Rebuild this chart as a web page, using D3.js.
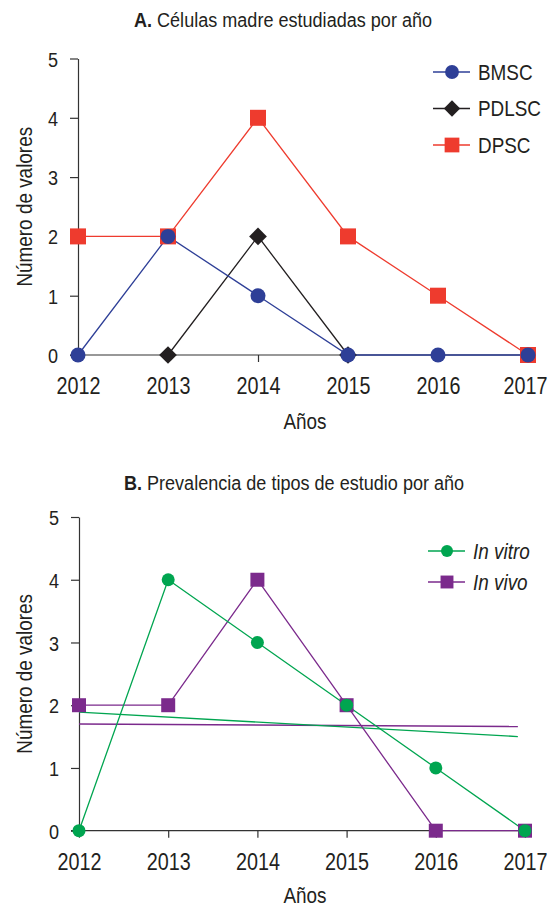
<!DOCTYPE html>
<meta charset="utf-8">
<style>
body { margin: 0; background: #fff; }
svg text { font-family: "Liberation Sans", Arial, sans-serif; fill: #231f20; }
.axis path, .axis line { stroke: #333; stroke-width: 1.2; }
</style>
<body>
<script src="https://cdn.jsdelivr.net/npm/d3@7"></script>
<script>
// data
var years = [2012, 2013, 2014, 2015, 2016, 2017];
var yTicks = [0, 1, 2, 3, 4, 5];

var bmsc  = [0, 2, 1, 0, 0, 0];
var pdlsc = [null, 0, 2, 0, null, null];
var dpsc  = [2, 2, 4, 2, 1, 0];

var inVitro = [0, 4, 3, 2, 1, 0];
var inVivo  = [2, 2, 4, 2, 0, 0];
// trend lines (start / end)
var vitroTrend = [[2012, 1.89], [2016.92, 1.5]];
var vivoTrend  = [[2012, 1.70], [2016.92, 1.66]];

var W = 548, H = 909;
var NARROW = 0.86; // the original uses a condensed face
var svg = d3.select("body").append("svg").attr("width", W).attr("height", H);

// squeeze text horizontally, keeping its anchor where it was
function condense(sel) {
  sel.each(function() {
    var s = d3.select(this);
    var x0 = +s.attr("x") || 0;
    s.attr("x", x0 / NARROW);
    s.attr("transform", (s.attr("transform") || "") + " scale(" + NARROW + ",1)");
  });
}

function panel(opt) {
  var x = d3.scaleLinear().domain([2012, 2017]).range([opt.left, opt.right]);
  var y = d3.scaleLinear().domain([0, 5]).range([opt.bottom, opt.top]);
  var g = svg.append("g");

  // title (bold letter + plain text)
  var t = g.append("text")
      .attr("transform", "translate(" + opt.titleX + "," + opt.titleY + ")")
      .attr("text-anchor", "middle").style("font-size", "21px");
  t.append("tspan").style("font-weight", "bold").text(opt.letter);
  t.append("tspan").text(" " + opt.title);
  condense(t);

  g.append("g").attr("class", "axis")
      .attr("transform", "translate(" + opt.left + ",0)")
      .call(d3.axisLeft(y).tickValues(yTicks).tickSize(8).tickSizeOuter(0).tickPadding(12).tickFormat(d3.format("d")))
      .call(function(a) {
        a.selectAll("text").style("font-size", "21px").style("font-family", null).attr("dy", "0.36em");
        condense(a.selectAll("text"));
      });

  g.append("g").attr("class", "axis")
      .attr("transform", "translate(0," + opt.bottom + ")")
      .call(d3.axisBottom(x).tickValues(years).tickSize(7).tickSizeOuter(0).tickPadding(16).tickFormat(d3.format("d")))
      .call(function(a) {
        a.select(".domain").remove();
        a.selectAll("text").style("font-size", "23px").style("font-family", null);
        condense(a.selectAll("text"));
        // keep the last label inside the page
        a.selectAll(".tick").each(function(d) {
          var half = this.querySelector("text").getComputedTextLength() * NARROW / 2;
          var over = x(d) + half - (W - 1);
          if (over > 0) d3.select(this).select("text").attr("x", -over / NARROW);
        });
      });
  g.append("line").attr("x1", opt.left - 8).attr("x2", opt.right)
      .attr("y1", opt.bottom).attr("y2", opt.bottom)
      .attr("stroke", "#333").attr("stroke-width", 1.2);

  condense(g.append("text").attr("transform", "translate(" + opt.ylabX + "," + ((opt.top + opt.bottom) / 2) + ") rotate(-90)")
      .attr("text-anchor", "middle").style("font-size", "22px").text("Número de valores"));
  condense(g.append("text").attr("x", 305).attr("y", opt.xlabY)
      .attr("text-anchor", "middle").style("font-size", "22px").text("Años"));

  var line = d3.line().defined(function(d) { return d[1] != null; })
      .x(function(d) { return x(d[0]); }).y(function(d) { return y(d[1]); });

  (opt.trends || []).forEach(function(tr) {
    g.append("path").datum(tr.data).attr("d", line)
        .attr("fill", "none").attr("stroke", tr.color).attr("stroke-width", 1.4);
  });

  opt.series.forEach(function(s) {
    var pts = years.map(function(yr, i) { return [yr, s.values[i]]; });
    g.append("path").datum(pts).attr("d", line)
        .attr("fill", "none").attr("stroke", s.color).attr("stroke-width", 1.3);
  });
  opt.series.forEach(function(s) {
    var pts = years.map(function(yr, i) { return [yr, s.values[i]]; })
        .filter(function(d) { return d[1] != null; });
    g.selectAll(null).data(pts).enter().append("path")
        .attr("transform", function(d) { return "translate(" + x(d[0]) + "," + y(d[1]) + ")"; })
        .attr("d", d3.symbol().type(s.symbol).size(s.size))
        .attr("fill", s.color);
  });

  // legend
  opt.series.slice().sort(function(a, b) { return a.legendOrder - b.legendOrder; }).forEach(function(s, i) {
    var ly = opt.legY + i * opt.legStep;
    var lg = g.append("g").attr("transform", "translate(" + opt.legX + "," + ly + ")");
    lg.append("line").attr("x1", -19).attr("x2", 18).attr("stroke", s.color).attr("stroke-width", 1.5);
    lg.append("path").attr("d", d3.symbol().type(s.symbol).size(s.size * 0.85)).attr("fill", s.color);
    condense(lg.append("text").attr("x", 26).attr("dy", "0.36em").style("font-size", "22px")
        .style("font-style", s.italic ? "italic" : null).text(s.name));
  });
}

panel({
  left: 78, right: 528, top: 58.5, bottom: 355,
  letter: "A.", title: "Células madre estudiadas por año", titleX: 283, titleY: 27,
  ylabX: 32, xlabY: 429,
  legX: 452, legY: 72, legStep: 36.5,
  series: [
    { name: "DPSC", values: dpsc, color: "#ee3b2e", symbol: d3.symbolSquare, size: 256, legendOrder: 2 },
    { name: "PDLSC", values: pdlsc, color: "#231f20", symbol: d3.symbolDiamond2 || d3.symbolDiamond, size: 200, legendOrder: 1 },
    { name: "BMSC", values: bmsc, color: "#2e3f97", symbol: d3.symbolCircle, size: 177, legendOrder: 0 }
  ]
});

panel({
  left: 79, right: 525, top: 517, bottom: 830.7,
  letter: "B.", title: "Prevalencia de tipos de estudio por año", titleX: 294, titleY: 490,
  ylabX: 32, xlabY: 903,
  legX: 447, legY: 551, legStep: 31,
  trends: [
    { data: vivoTrend, color: "#7b2a8c" },
    { data: vitroTrend, color: "#00a550" }
  ],
  series: [
    { name: "In vivo", values: inVivo, color: "#7b2a8c", symbol: d3.symbolSquare, size: 196, legendOrder: 1, italic: true },
    { name: "In vitro", values: inVitro, color: "#00a550", symbol: d3.symbolCircle, size: 133, legendOrder: 0, italic: true }
  ]
});
</script>
</body>
